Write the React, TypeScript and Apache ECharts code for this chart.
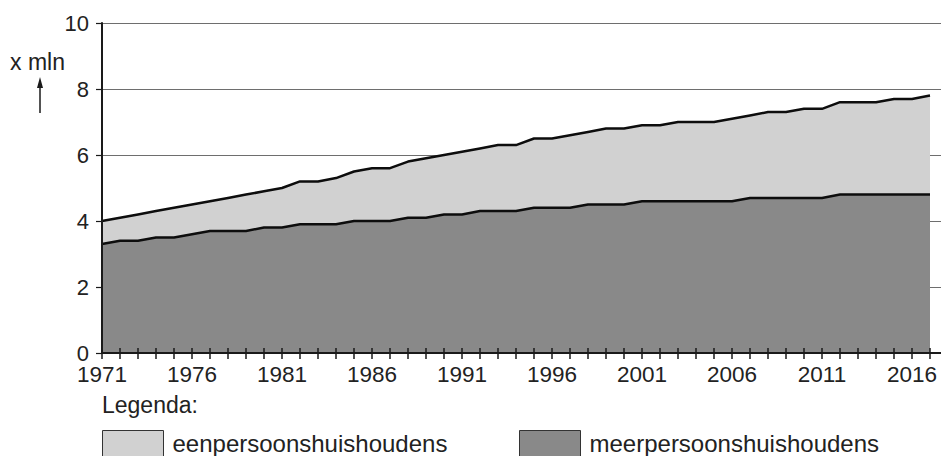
import React, { useEffect, useRef } from "react";
import * as echarts from "echarts";

const years: number[] = [
  1971, 1972, 1973, 1974, 1975, 1976, 1977, 1978, 1979, 1980,
  1981, 1982, 1983, 1984, 1985, 1986, 1987, 1988, 1989, 1990,
  1991, 1992, 1993, 1994, 1995, 1996, 1997, 1998, 1999, 2000,
  2001, 2002, 2003, 2004, 2005, 2006, 2007, 2008, 2009, 2010,
  2011, 2012, 2013, 2014, 2015, 2016, 2017,
];

// total number of households (top line: een- + meerpersoons), x mln
const totaal: number[] = [
  4.0, 4.1, 4.2, 4.3, 4.4, 4.5, 4.6, 4.7, 4.8, 4.9,
  5.0, 5.2, 5.2, 5.3, 5.5, 5.6, 5.6, 5.8, 5.9, 6.0,
  6.1, 6.2, 6.3, 6.3, 6.5, 6.5, 6.6, 6.7, 6.8, 6.8,
  6.9, 6.9, 7.0, 7.0, 7.0, 7.1, 7.2, 7.3, 7.3, 7.4,
  7.4, 7.6, 7.6, 7.6, 7.7, 7.7, 7.8,
];

// multi-person households (bottom line), x mln
const meerpersoons: number[] = [
  3.3, 3.4, 3.4, 3.5, 3.5, 3.6, 3.7, 3.7, 3.7, 3.8,
  3.8, 3.9, 3.9, 3.9, 4.0, 4.0, 4.0, 4.1, 4.1, 4.2,
  4.2, 4.3, 4.3, 4.3, 4.4, 4.4, 4.4, 4.5, 4.5, 4.5,
  4.6, 4.6, 4.6, 4.6, 4.6, 4.6, 4.7, 4.7, 4.7, 4.7,
  4.7, 4.8, 4.8, 4.8, 4.8, 4.8, 4.8,
];

const xLabelYears: number[] = [1971, 1976, 1981, 1986, 1991, 1996, 2001, 2006, 2011, 2016];
const yTicks: number[] = [0, 2, 4, 6, 8, 10];

const FONT = "'Liberation Sans', Arial, Helvetica, sans-serif";
const INK = "#1a1a1a";
const LIGHT = "#d1d1d1";
const DARK = "#898989";

export default function App() {
  const ref = useRef<HTMLDivElement>(null);

  useEffect(() => {
    if (!ref.current) return;
    const chart = echarts.init(ref.current, null, { renderer: "svg" });

    const xMax = 1971 + (941 - 102) / 18;

    const option: any = {
      animation: false,
      backgroundColor: "#ffffff",
      textStyle: { fontFamily: FONT },
      grid: { left: 102, right: 0, top: 23, bottom: 103, containLabel: false, outerBoundsMode: "none" },
      xAxis: [
        {
          type: "value",
          min: 1971,
          max: xMax,
          z: 10,
          axisLine: { show: true, onZero: false, lineStyle: { color: INK, width: 2 } },
          axisTick: { show: true, length: 6, customValues: years, lineStyle: { color: INK, width: 1.5 } },
          axisLabel: {
            customValues: xLabelYears,
            formatter: (v: number) => String(v),
            fontSize: 22.5,
            lineHeight: 18,
            color: "#222",
            margin: 12,
            fontFamily: FONT,
          },
          splitLine: { show: false },
        },
        {
          type: "value",
          min: 1971,
          max: xMax,
          position: "bottom",
          z: 10,
          axisLine: { show: false },
          axisTick: { show: true, inside: true, length: 5, customValues: years, lineStyle: { color: INK, width: 1.5 } },
          axisLabel: { show: false },
          splitLine: { show: false },
        },
      ],
      yAxis: [
        {
          type: "value",
          min: 0,
          max: 10,
          interval: 2,
          position: "left",
          axisLine: { show: false },
          axisTick: { show: false },
          axisLabel: { show: false },
          splitLine: { show: true, lineStyle: { color: "#6e6e6e", width: 1.2 } },
        },
        {
          type: "value",
          min: 0,
          max: 10,
          interval: 2,
          position: "left",
          z: 10,
          axisLine: { show: true, lineStyle: { color: INK, width: 2 } },
          axisTick: { show: true, length: 6, lineStyle: { color: INK, width: 1.2 } },
          axisLabel: {
            fontSize: 22,
            lineHeight: 14,
            padding: [0, 0, 2, 0],
            color: "#222",
            margin: 13,
            fontFamily: FONT,
            customValues: yTicks,
          },
          splitLine: { show: false },
        },
      ],
      legend: [
        {
          left: 102,
          top: 430,
          padding: 0,
          itemWidth: 61,
          itemHeight: 26,
          selectedMode: false,
          textStyle: { fontSize: 24, color: "#222", fontFamily: FONT, padding: [0, 0, 0, 4] },
          data: [
            {
              name: "eenpersoonshuishoudens",
              icon: "rect",
              itemStyle: { color: LIGHT, borderColor: "#333", borderWidth: 1 },
            },
          ],
        },
        {
          left: 519,
          top: 430,
          padding: 0,
          itemWidth: 61,
          itemHeight: 26,
          selectedMode: false,
          textStyle: { fontSize: 24, color: "#222", fontFamily: FONT, padding: [0, 0, 0, 4] },
          data: [
            {
              name: "meerpersoonshuishoudens",
              icon: "rect",
              itemStyle: { color: DARK, borderColor: "#333", borderWidth: 1 },
            },
          ],
        },
      ],
      graphic: [
        {
          type: "text",
          left: 10,
          top: 50,
          style: { text: "x mln", fontSize: 23, fill: "#222", fontFamily: FONT },
        },
        {
          type: "line",
          shape: { x1: 40, y1: 113, x2: 40, y2: 84 },
          style: { stroke: INK, lineWidth: 1.5 },
        },
        {
          type: "polygon",
          shape: { points: [[37, 88], [43, 88], [40, 77]] },
          style: { fill: INK },
        },
        {
          type: "text",
          left: 102,
          top: 393,
          style: { text: "Legenda:", fontSize: 23, fill: "#222", fontFamily: FONT },
        },
      ],
      series: [
        {
          // light band: from the meerpersoons line up to the total line
          name: "eenpersoonshuishoudens",
          type: "line",
          xAxisIndex: 0,
          yAxisIndex: 0,
          data: years.map((y, i) => [y, totaal[i]]),
          symbol: "none",
          z: 2,
          itemStyle: { color: LIGHT },
          lineStyle: { color: "#0d0d0d", width: 2.5 },
          areaStyle: { color: LIGHT, opacity: 1 },
        },
        {
          name: "meerpersoonshuishoudens",
          type: "line",
          xAxisIndex: 0,
          yAxisIndex: 0,
          data: years.map((y, i) => [y, meerpersoons[i]]),
          symbol: "none",
          z: 3,
          itemStyle: { color: DARK },
          lineStyle: { color: "#0d0d0d", width: 2.5 },
          areaStyle: { color: DARK, opacity: 1 },
        },
      ],
    };

    chart.setOption(option);
    return () => chart.dispose();
  }, []);

  return (
    <div
      ref={ref}
      style={{ position: "fixed", left: 0, top: 0, width: 941, height: 456, background: "#fff" }}
    />
  );
}
